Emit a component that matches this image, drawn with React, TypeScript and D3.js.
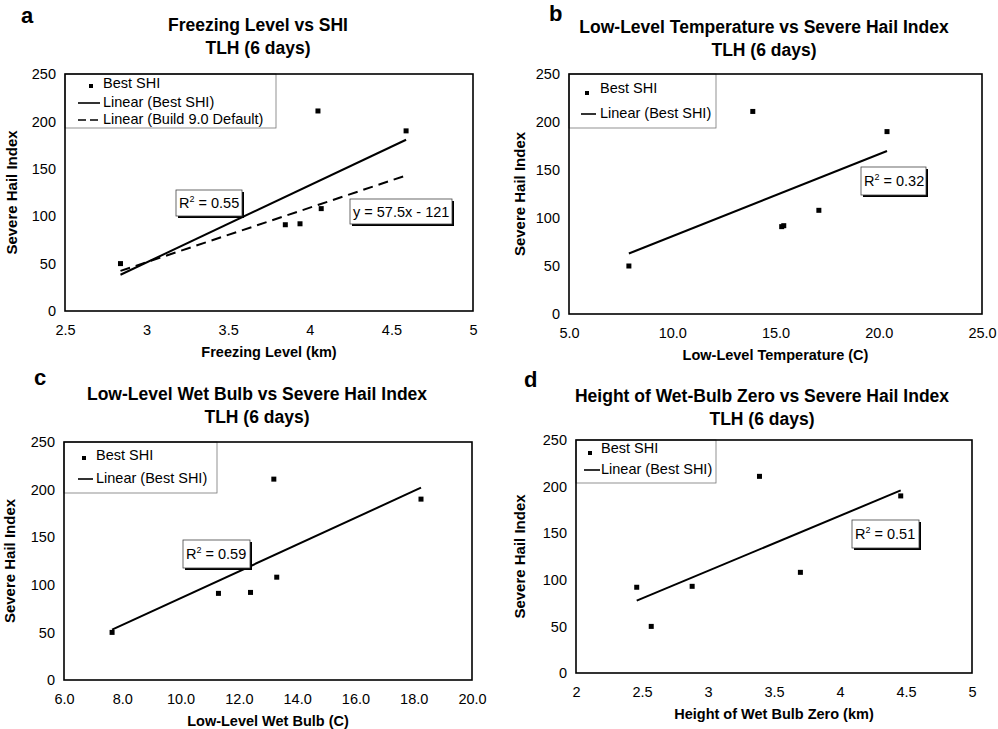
import React, { useRef, useEffect } from 'react';
import * as d3 from 'd3';

// six TLH hail days, SHI
const freezingLevel = [2.84, 3.85, 3.94, 4.05, 4.07, 4.59];
const shiA = [50, 91, 92, 211, 108, 190];
const lowLevelTemp = [7.9, 13.9, 15.3, 15.4, 17.1, 20.4];
const shiB = [50, 211, 91, 92, 108, 190];
const lowLevelWetBulb = [7.65, 11.3, 12.4, 13.2, 13.3, 18.25];
const shiC = [50, 91, 92, 211, 108, 190];
const wetBulbZero = [2.46, 2.57, 2.88, 3.39, 3.7, 4.46];
const shiD = [92, 50, 93, 211, 108, 190];

const yTicks = [0, 50, 100, 150, 200, 250];
const xTicksA = [2.5, 3, 3.5, 4, 4.5, 5];
const xTicksB = [5, 10, 15, 20, 25];
const xTicksC = [6, 8, 10, 12, 14, 16, 18, 20];
const xTicksD = [2, 2.5, 3, 3.5, 4, 4.5, 5];

// Build 9.0 default line in panel a
const defaultSlope = 57.5;
const defaultIntercept = -121;
const rSquaredLabels = ['0.55', '0.32', '0.59', '0.51'];

const FONT = 'Arial, "Liberation Sans", sans-serif';

const panels = [
  {
    letter: 'a', letterX: 21, letterY: 23,
    title: ['Freezing Level vs SHI', 'TLH (6 days)'], titleX: 258, titleY: 31,
    xs: freezingLevel, ys: shiA, xTicks: xTicksA, xFmt: d3.format(''),
    xLabel: 'Freezing Level (km)',
    box: { l: 65, r: 473, t: 74, b: 311 }, yLabelDx: 48,
    legend: { w: 211, h: 54, marker: [26, 12], textX: 38, rows: [9, 28, 45], line: [13, 35] },
    r2: { x: 176, y: 190, w: 66, h: 26 },
    eq: { x: 350, y: 199, w: 102, h: 25 },
    dashed: true,
  },
  {
    letter: 'b', letterX: 549, letterY: 21,
    title: ['Low-Level Temperature vs Severe Hail Index', 'TLH (6 days)'], titleX: 764, titleY: 33,
    xs: lowLevelTemp, ys: shiB, xTicks: xTicksB, xFmt: d3.format('.1f'),
    xLabel: 'Low-Level Temperature (C)',
    box: { l: 569, r: 982, t: 74, b: 314 }, yLabelDx: 44,
    legend: { w: 147, h: 54, marker: [18, 19], textX: 31, rows: [14, 39], line: [12, 27] },
    r2: { x: 861, y: 167, w: 65, h: 28 },
    eq: null,
    dashed: false,
  },
  {
    letter: 'c', letterX: 34, letterY: 385,
    title: ['Low-Level Wet Bulb vs Severe Hail Index', 'TLH (6 days)'], titleX: 257, titleY: 400,
    xs: lowLevelWetBulb, ys: shiC, xTicks: xTicksC, xFmt: d3.format('.1f'),
    xLabel: 'Low-Level Wet Bulb (C)',
    box: { l: 64, r: 472, t: 442, b: 680 }, yLabelDx: 49,
    legend: { w: 153, h: 51, marker: [20, 16], textX: 32, rows: [13, 36], line: [14, 29] },
    r2: { x: 183, y: 540, w: 67, h: 28 },
    eq: null,
    dashed: false,
  },
  {
    letter: 'd', letterX: 524, letterY: 387,
    title: ['Height of Wet-Bulb Zero vs Severe Hail Index', 'TLH (6 days)'], titleX: 762, titleY: 402,
    xs: wetBulbZero, ys: shiD, xTicks: xTicksD, xFmt: d3.format(''),
    xLabel: 'Height of Wet Bulb Zero (km)',
    box: { l: 576, r: 972, t: 440, b: 673 }, yLabelDx: 51,
    legend: { w: 140, h: 43, marker: [14, 13], textX: 25, rows: [8, 29], line: [8, 24] },
    r2: { x: 852, y: 520, w: 67, h: 28 },
    eq: null,
    dashed: false,
  },
];

// least squares, like the spreadsheet trendline
const fit = (xs, ys) => {
  const mx = d3.mean(xs), my = d3.mean(ys);
  const sxy = d3.sum(xs, (x, i) => (x - mx) * (ys[i] - my));
  const sxx = d3.sum(xs, x => (x - mx) ** 2);
  const slope = sxy / sxx;
  return { slope, intercept: my - slope * mx };
};

const labelBox = (svg, b, parts) => {
  svg.append('rect')
    .attr('x', b.x + 2).attr('y', b.y + 2)
    .attr('width', b.w).attr('height', b.h)
    .attr('fill', '#000');
  svg.append('rect')
    .attr('x', b.x).attr('y', b.y)
    .attr('width', b.w).attr('height', b.h)
    .attr('fill', '#fff').attr('stroke', '#444').attr('stroke-width', 0.8);
  const t = svg.append('text')
    .attr('x', b.x + 3).attr('y', b.y + b.h / 2 + 5)
    .attr('font-family', FONT).attr('font-size', 14.5);
  parts(t);
};

const SHIPanels = () => {
  const chartRef = useRef();

  useEffect(() => {
    const svg = d3.select(chartRef.current);
    svg.selectAll('*').remove();

    panels.forEach((p, pi) => {
      const { l, r, t, b } = p.box;
      const x = d3.scaleLinear().domain(d3.extent(p.xTicks)).range([l, r]);
      const y = d3.scaleLinear().domain([0, 250]).range([b, t]);

      svg.append('text')
        .attr('x', p.letterX).attr('y', p.letterY)
        .attr('font-family', FONT).attr('font-size', 22).attr('font-weight', 'bold')
        .text(p.letter);

      p.title.forEach((line, i) => {
        svg.append('text')
          .attr('x', p.titleX).attr('y', p.titleY + i * 23)
          .attr('text-anchor', 'middle')
          .attr('font-family', FONT).attr('font-size', 17.5).attr('font-weight', 'bold')
          .text(line);
      });

      // axes: labels only, no tick marks
      const xAxis = svg.append('g')
        .attr('transform', `translate(0, ${b})`)
        .call(d3.axisBottom(x).tickValues(p.xTicks).tickFormat(p.xFmt).tickSize(0).tickPadding(14));
      xAxis.select('.domain').remove();
      xAxis.selectAll('text').attr('font-family', FONT).attr('font-size', 14.5).attr('fill', '#000');

      const yAxis = svg.append('g')
        .attr('transform', `translate(${l}, 0)`)
        .call(d3.axisLeft(y).tickValues(yTicks).tickSize(0).tickPadding(9));
      yAxis.select('.domain').remove();
      yAxis.selectAll('text').attr('font-family', FONT).attr('font-size', 14.5).attr('fill', '#000');

      svg.append('text')
        .attr('x', (l + r) / 2).attr('y', b + 46)
        .attr('text-anchor', 'middle')
        .attr('font-family', FONT).attr('font-size', 14.5).attr('font-weight', 'bold')
        .text(p.xLabel);

      svg.append('text')
        .attr('transform', `translate(${l - p.yLabelDx}, ${(t + b) / 2}) rotate(-90)`)
        .attr('text-anchor', 'middle')
        .attr('font-family', FONT).attr('font-size', 15).attr('font-weight', 'bold')
        .text('Severe Hail Index');

      // legend
      const lg = p.legend;
      const leg = svg.append('g').attr('transform', `translate(${l}, ${t})`);
      leg.append('rect')
        .attr('width', lg.w).attr('height', lg.h)
        .attr('fill', '#fff').attr('stroke', '#777').attr('stroke-width', 0.8);
      leg.append('rect')
        .attr('x', lg.marker[0] - 2).attr('y', lg.marker[1] - 2)
        .attr('width', 4).attr('height', 4).attr('fill', '#000');
      const legendText = ['Best SHI', 'Linear (Best SHI)', 'Linear (Build 9.0 Default)'];
      lg.rows.forEach((ry, i) => {
        leg.append('text')
          .attr('x', lg.textX).attr('y', ry + 5)
          .attr('font-family', FONT).attr('font-size', 14.5)
          .text(legendText[i]);
        if (i > 0) {
          leg.append('line')
            .attr('x1', lg.line[0]).attr('x2', lg.line[1])
            .attr('y1', ry + 1).attr('y2', ry + 1)
            .attr('stroke', '#000').attr('stroke-width', 1.6)
            .attr('stroke-dasharray', i === 2 ? '8 4' : null);
        }
      });

      // trendlines over the data range
      const [x0, x1] = d3.extent(p.xs);
      const lineGen = d3.line().x(d => x(d[0])).y(d => y(d[1]));
      if (p.dashed) {
        svg.append('path')
          .attr('d', lineGen([x0, x1].map(v => [v, defaultSlope * v + defaultIntercept])))
          .attr('fill', 'none').attr('stroke', '#000').attr('stroke-width', 2)
          .attr('stroke-dasharray', '10 6');
      }
      const f = fit(p.xs, p.ys);
      svg.append('path')
        .attr('d', lineGen([x0, x1].map(v => [v, f.slope * v + f.intercept])))
        .attr('fill', 'none').attr('stroke', '#000').attr('stroke-width', 2);

      svg.append('g').selectAll('rect')
        .data(p.xs.map((v, i) => [v, p.ys[i]]))
        .enter()
        .append('rect')
        .attr('x', d => x(d[0]) - 2.5).attr('y', d => y(d[1]) - 2.5)
        .attr('width', 5).attr('height', 5).attr('fill', '#000');

      // frame
      svg.append('rect')
        .attr('x', l).attr('y', t).attr('width', r - l).attr('height', b - t)
        .attr('fill', 'none').attr('stroke', '#000').attr('stroke-width', 1.6);

      labelBox(svg, p.r2, txt => {
        txt.append('tspan').text('R');
        txt.append('tspan').attr('font-size', 9).attr('dy', -6).text('2');
        txt.append('tspan').attr('dy', 6).text(` = ${rSquaredLabels[pi]}`);
      });
      if (p.eq) {
        labelBox(svg, p.eq, txt => {
          txt.append('tspan').text(`y = ${defaultSlope}x - ${-defaultIntercept}`);
        });
      }
    });
  }, []);

  return (
    <svg ref={chartRef} width={998} height={729}
      style={{ position: 'absolute', left: 0, top: 0, background: '#fff' }} />
  );
};

export default function App() {
  return <SHIPanels />;
}
